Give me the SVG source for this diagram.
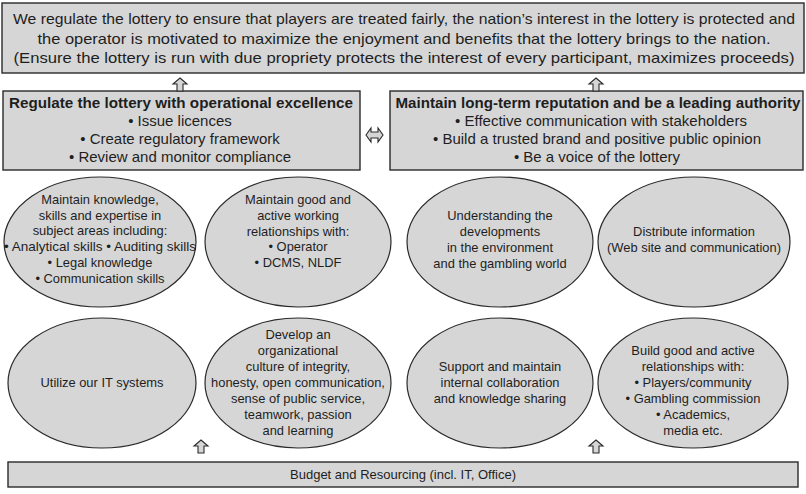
<svg xmlns="http://www.w3.org/2000/svg" width="806" height="494" viewBox="0 0 806 494">
  <style>
    .box { fill: #d6d6d6; stroke: #2a2a2a; stroke-width: 1.4; }
    .oval { fill: #d6d6d6; stroke: #2a2a2a; stroke-width: 1.2; }
    .arrow { fill: #d6d6d6; stroke: #2a2a2a; stroke-width: 1.1; stroke-linejoin: miter; }
    text { font-family: "Liberation Sans", Arial, sans-serif; fill: #1e1e1e; text-anchor: middle; }
    .top { font-size: 14.5px; }
    .head { font-size: 15px; font-weight: bold; }
    .item { font-size: 15px; }
    .small { font-size: 12.9px; }
    .base { font-size: 13px; }
  </style>
  <defs>
    <!-- hollow block arrow pointing up, tip at origin -->
    <path id="up" class="arrow" d="M0,0 L7,6 L3,6 L3,13 L-3,13 L-3,6 L-7,6 Z"/>
  </defs>

  <rect width="806" height="494" fill="#ffffff"/>

  <g id="mission">
    <rect class="box" x="2" y="3" width="802" height="70"/>
    <text class="top" x="404" y="24" textLength="782" lengthAdjust="spacingAndGlyphs">We regulate the lottery to ensure that players are treated fairly, the nation’s interest in the lottery is protected and</text>
    <text class="top" x="404" y="44" textLength="733" lengthAdjust="spacingAndGlyphs">the operator is motivated to maximize the enjoyment and benefits that the lottery brings to the nation.</text>
    <text class="top" x="404" y="63" textLength="781" lengthAdjust="spacingAndGlyphs">(Ensure the lottery is run with due propriety protects  the interest of every participant, maximizes proceeds)</text>
  </g>

  <g id="operational">
    <rect class="box" x="3" y="91" width="357" height="79"/>
    <text class="head" x="181" y="108" textLength="344" lengthAdjust="spacingAndGlyphs">Regulate the lottery with operational excellence</text>
    <text class="item" x="180" y="126">• Issue licences</text>
    <text class="item" x="180" y="144">• Create regulatory framework</text>
    <text class="item" x="180" y="162">• Review and monitor compliance</text>
  </g>

  <g id="reputation">
    <rect class="box" x="390" y="91" width="413" height="79"/>
    <text class="head" x="598" y="108" textLength="405" lengthAdjust="spacingAndGlyphs">Maintain long-term reputation and be a leading authority</text>
    <text class="item" x="601" y="126">• Effective communication with stakeholders</text>
    <text class="item" x="597" y="144">• Build a trusted brand and positive public opinion</text>
    <text class="item" x="597" y="162">• Be a voice of the lottery</text>
  </g>

  <g id="knowledge">
    <ellipse class="oval" cx="100" cy="242" rx="96" ry="65"/>
    <text class="small" x="100" y="204">Maintain knowledge,</text>
    <text class="small" x="100" y="220">skills and expertise in</text>
    <text class="small" x="100" y="235">subject areas including:</text>
    <text class="small" x="100" y="251" textLength="192" lengthAdjust="spacingAndGlyphs">• Analytical skills • Auditing skills</text>
    <text class="small" x="100" y="267">• Legal knowledge</text>
    <text class="small" x="100" y="283">• Communication skills</text>
  </g>

  <g id="relationships">
    <ellipse class="oval" cx="298" cy="242" rx="93" ry="65"/>
    <text class="small" x="298" y="204">Maintain good and</text>
    <text class="small" x="298" y="220">active working</text>
    <text class="small" x="298" y="236">relationships with:</text>
    <text class="small" x="298" y="251">• Operator</text>
    <text class="small" x="298" y="267">• DCMS, NLDF</text>
  </g>

  <g id="environment">
    <ellipse class="oval" cx="500" cy="242" rx="93" ry="65"/>
    <text class="small" x="500" y="220">Understanding the</text>
    <text class="small" x="500" y="236">developments</text>
    <text class="small" x="500" y="252">in the environment</text>
    <text class="small" x="500" y="268">and the gambling world</text>
  </g>

  <g id="distribute">
    <ellipse class="oval" cx="694" cy="242" rx="96" ry="65"/>
    <text class="small" x="694" y="236">Distribute information</text>
    <text class="small" x="694" y="252">(Web site and communication)</text>
  </g>

  <g id="it-systems">
    <ellipse class="oval" cx="102" cy="383" rx="94" ry="65"/>
    <text class="small" x="102" y="387">Utilize our IT systems</text>
  </g>

  <g id="culture">
    <ellipse class="oval" cx="298" cy="383" rx="93" ry="65"/>
    <text class="small" x="298" y="339">Develop an</text>
    <text class="small" x="298" y="355">organizational</text>
    <text class="small" x="298" y="371">culture of integrity,</text>
    <text class="small" x="298" y="387">honesty, open communication,</text>
    <text class="small" x="298" y="403">sense of public service,</text>
    <text class="small" x="298" y="419">teamwork, passion</text>
    <text class="small" x="298" y="435">and learning</text>
  </g>

  <g id="collaboration">
    <ellipse class="oval" cx="500" cy="383" rx="93" ry="65"/>
    <text class="small" x="500" y="371">Support and maintain</text>
    <text class="small" x="500" y="387">internal collaboration</text>
    <text class="small" x="500" y="403">and knowledge sharing</text>
  </g>

  <g id="stakeholders">
    <ellipse class="oval" cx="693" cy="383" rx="95" ry="65"/>
    <text class="small" x="693" y="355">Build good and active</text>
    <text class="small" x="693" y="371">relationships with:</text>
    <text class="small" x="693" y="387">• Players/community</text>
    <text class="small" x="693" y="403">• Gambling commission</text>
    <text class="small" x="693" y="419">• Academics,</text>
    <text class="small" x="693" y="435">media etc.</text>
  </g>

  <g id="budget">
    <rect class="box" x="8" y="462" width="790" height="25"/>
    <text class="base" x="403" y="479">Budget and Resourcing (incl. IT, Office)</text>
  </g>

  <g id="connectors">
    <use href="#up" x="180" y="78"/>
    <use href="#up" x="596" y="78"/>
    <use href="#up" x="201" y="440"/>
    <use href="#up" x="596" y="440"/>
    <path class="arrow" d="M366,135 L371,128 L371,132 L378,132 L378,128 L383,135 L378,142 L378,138 L371,138 L371,142 Z"/>
  </g>
</svg>
